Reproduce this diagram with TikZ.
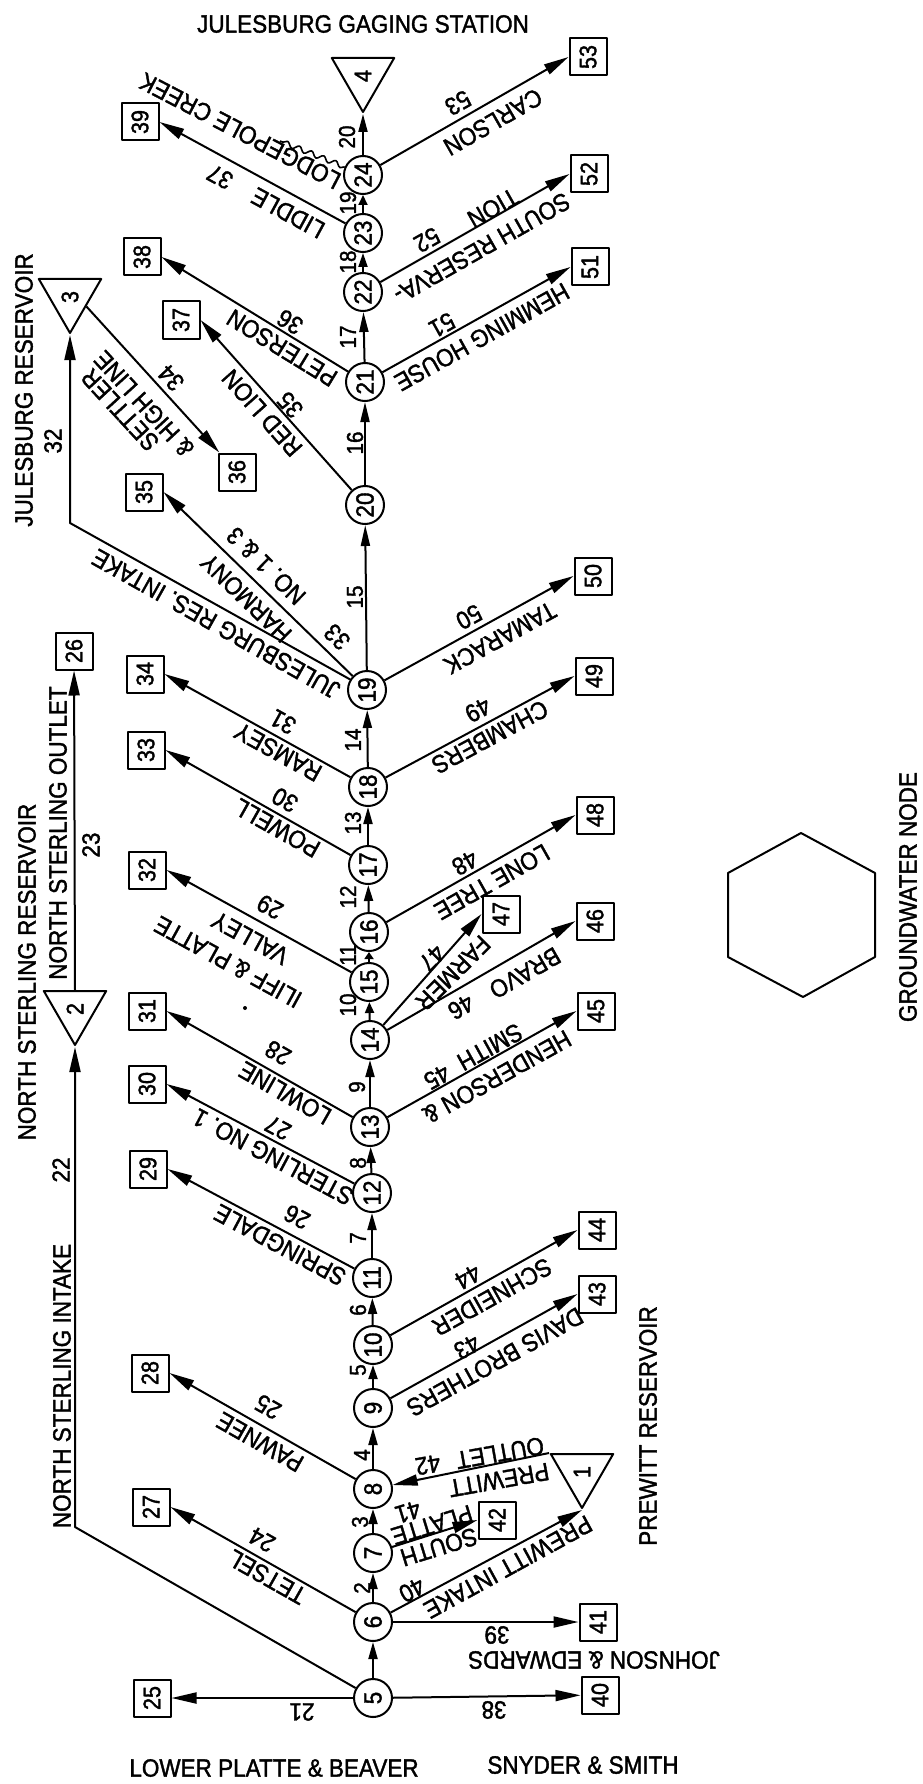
\documentclass[tikz,border=0pt]{standalone}
\usepackage{fontspec}
\setmainfont{Liberation Sans}[FakeStretch=0.9,FakeBold=1.5]
\usepackage{graphicx}
\usetikzlibrary{arrows.meta,shapes.geometric,decorations.pathmorphing}
\begin{document}
\begin{tikzpicture}[x=1pt,y=-1pt,line width=2pt,line join=round,
  cnode/.style={circle,draw,minimum size=38pt,inner sep=0pt,font=\fontsize{25}{25}\selectfont},
  bnode/.style={rectangle,draw,minimum size=37pt,inner sep=0pt,font=\fontsize{24}{24}\selectfont},
  tnode/.style={regular polygon,regular polygon sides=3,shape border rotate=180,draw,minimum size=72pt,inner sep=0pt},
  lb/.style={font=\fontsize{25}{27}\selectfont,inner sep=0pt},
  sl/.style={font=\fontsize{23}{23}\selectfont,inner sep=0pt,rotate=90},
  al/.style={-{Triangle[length=#1,width=9pt]}},
  fl/.style={-{Triangle[length=25pt,width=11pt]}},
]
\useasboundingbox (0,0) rectangle (922,1784);

% main stem nodes
\foreach \n/\x/\y in {5/373/1698,6/373/1622,7/373/1553,8/373/1489,9/373/1408,10/373/1345,
  11/372/1278,12/372/1193,13/370/1127,14/370/1040,15/369/982,16/369/932,17/368/865,
  18/368/787,19/367/690,20/365/505,21/365/382,22/363/292,23/363/233,24/363/175}
  \node[cnode] (n\n) at (\x,\y) {\rotatebox{90}{\n}};

% demand boxes
\foreach \n/\x/\y in {25/152/1698,26/74/651,27/151/1507,28/150/1373,29/148/1169,30/147/1084,
  31/147/1011,32/147/870,33/146/750,34/145/674,35/144/492,36/237/472,37/181/320,38/142/257,
  39/140/122,40/600/1695,41/598/1622,42/497/1520,43/597/1294,44/597/1230,45/596/1011,
  46/595/921,47/501/914,48/595/815,49/594/676,50/593/576,51/590/267,52/589/174,53/588/57}
  \node[bnode] (b\n) at (\x,\y) {\rotatebox{90}{\n}};

% reservoirs / gaging station
\foreach \n/\x/\y in {1/582/1472,2/75/1009,3/70/297,4/363/76}{
  \node[tnode] (t\n) at (\x,\y) {};
  \node[font=\fontsize{24}{24}\selectfont,inner sep=0pt] (tl\n) at (\x,\y) {\rotatebox{90}{\n}};
}

% groundwater node
\draw (801,833) -- (875,873) -- (875,957) -- (803,997) -- (728,957) -- (728,873) -- cycle;

% stem links
\draw[al=17pt] (n5) -- (n6);
\draw[al=16pt] (n6) -- (n7);
\draw[al=15pt] (n7) -- (n8);
\draw[al=17pt] (n8) -- (n9);
\draw[al=14pt] (n9) -- (n10);
\draw[al=16pt] (n10) -- (n11);
\draw[al=17pt] (n11) -- (n12);
\draw[al=16pt] (n12) -- (n13);
\draw[al=17pt] (n13) -- (n14);
\draw[al=11pt] (n14) -- (n15);
\draw[al=7pt]  (n15) -- (n16);
\draw[al=16pt] (n16) -- (n17);
\draw[al=17pt] (n17) -- (n18);
\draw[al=18pt] (n18) -- (n19);
\draw[al=21pt] (n19) -- (n20);
\draw[al=20pt] (n20) -- (n21);
\draw[al=20pt] (n21) -- (n22);
\draw[al=14pt] (n22) -- (n23);
\draw[al=10pt] (n23) -- (n24);
\draw[al=18pt] (n24) -- (t4.corner 1);

% stem labels
\node[sl] (s2) at (362,1588) {2};
\node[sl] (s3) at (360,1522) {3};
\node[sl] (s4) at (362,1455) {4};
\node[sl] (s5) at (358,1370) {5};
\node[sl] (s6) at (358,1310) {6};
\node[sl] (s7) at (358,1238) {7};
\node[sl] (s8) at (358,1163) {8};
\node[sl] (s9) at (357,1087) {9};
\node[sl] (s10) at (348,1005) {10};
\node[sl] (s11) at (348,955) {11};
\node[sl] (s12) at (348,897) {12};
\node[sl] (s13) at (353,823) {13};
\node[sl] (s14) at (353,740) {14};
\node[sl] (s15) at (355,597) {15};
\node[sl] (s16) at (355,443) {16};
\node[sl] (s17) at (348,337) {17};
\node[sl] (s18) at (348,262) {18};
\node[sl] (s19) at (348,203) {19};
\node[sl] (s20) at (347,137) {20};

% corner points
\coordinate (c22) at (75,1527);
\coordinate (c32) at (70,523);
\coordinate (cr) at (280,141);

% left branches
\draw[fl] (n5) -- (b25);
\draw[fl] (n5) -- (c22) -- (t2.corner 1);
\draw[fl] (t2.side 2) -- (b26);
\draw[fl] (n6) -- (b27.east);
\draw[fl] (n8) -- (b28.east);
\draw[fl] (n11) -- (b29.east);
\draw[fl] (n12) -- (b30.east);
\draw[fl] (n13) -- (b31.east);
\draw[fl] (n15) -- (b32.east);
\draw[fl] (n17) -- (b33.east);
\draw[fl] (n18) -- (b34.east);
\draw[fl] (n19.148) -- (c32) -- (t3.corner 1);
\draw[fl] (n19) -- (b35.east);
\draw[fl] (t3.side 1) -- (b36);
\draw[fl] (n20) -- (b37.east);
\draw[fl] (n21) -- (b38.east);
\draw[fl] (n23) -- (b39.east);
\draw[line width=1.6pt,decorate,decoration={snake,amplitude=2.5pt,segment length=13pt}] (n24.156) -- (cr);

% right branches
\draw[fl] (n5) -- (b40);
\draw[fl] (n6) -- (b41);
\draw[fl] (n6) -- (t1.corner 1);
\draw[fl] (n7) -- (b42.west);
\draw[fl] (t1.corner 3) -- (n8);
\draw[fl] (n9) -- (b43.west);
\draw[fl] (n10) -- (b44.west);
\draw[fl] (n13) -- (b45.west);
\draw[fl] (n14) -- (b46.west);
\draw[fl] (n14) -- (b47.west);
\draw[fl] (n16) -- (b48.west);
\draw[fl] (n18) -- (b49.west);
\draw[fl] (n19) -- (b50.west);
\draw[fl] (n21) -- (b51.west);
\draw[fl] (n22) -- (b52.west);
\draw[fl] (n24) -- (b53.west);

% titles
\node[lb] (tJGS) at (363,24) {JULESBURG GAGING STATION};
\node[lb] (tLPB) at (274,1768) {LOWER PLATTE \& BEAVER};
\node[lb] (tSS) at (583,1765) {SNYDER \& SMITH};
\node[lb,rotate=180] (tJE) at (594,1660) {JOHNSON \& EDWARDS};
\node[lb,rotate=90] (tPR) at (648,1426) {PREWITT RESERVOIR};
\node[lb,rotate=90] (tGW) at (908,897) {GROUNDWATER NODE};
\node[lb,rotate=90] (tNSR) at (27,972) {NORTH STERLING RESERVOIR};
\node[lb,rotate=90] (tNSO) at (58,833) {NORTH STERLING OUTLET};
\node[lb,rotate=90] (tNSI) at (62,1386) {NORTH STERLING INTAKE};
\node[lb,rotate=90] (tJR) at (24,390) {JULESBURG RESERVOIR};

% link labels, left side
\node[lb,rotate=180] (l21) at (302,1712) {21};
\node[lb,rotate=90] (l22) at (61,1170) {22};
\node[lb,rotate=90] (l23) at (91,845) {23};
\node[lb,rotate=150.5] (l24) at (262,1540) {24};
\node[lb,rotate=150.5] (l24n) at (267,1577) {TETSEL};
\node[lb,rotate=150.4] (l25) at (268,1407) {25};
\node[lb,rotate=150.4] (l25n) at (260,1442) {PAWNEE};
\node[lb,rotate=151.9] (l26) at (297,1217) {26};
\node[lb,rotate=151.9] (l26n) at (280,1245) {SPRINGDALE};
\node[lb,rotate=152] (l27) at (278,1128) {27};
\node[lb,rotate=152] (l27n) at (273,1157) {STERLING NO. 1};
\node[lb,rotate=150.3] (l28) at (278,1053) {28};
\node[lb,rotate=150.3] (l28n) at (285,1093) {LOWLINE};
\node[lb,rotate=151.2] (l29) at (270,907) {29};
\node[lb,rotate=151.2] (l29n) at (250,938) {VALLEY};
\node[lb,rotate=151.2] (l29m) at (228,962) {ILIFF \& PLATTE};
\fill (245,1008) circle (2pt);
\node[lb,rotate=150.6] (l30) at (285,800) {30};
\node[lb,rotate=150.6] (l30n) at (277,828) {POWELL};
\node[lb,rotate=151.1] (l31) at (283,722) {31};
\node[lb,rotate=151.1] (l31n) at (278,752) {RAMSEY};
\node[lb,rotate=90] (l32) at (53,441) {32};
\node[lb,rotate=150.7] (l32n) at (216,624) {JULESBURG RES. INTAKE};
\node[lb,rotate=135.9] (l33) at (337,637) {33};
\node[lb,rotate=135.9] (l33n) at (246,598) {HARMONY};
\node[lb,rotate=135.9] (l33m) at (266,566) {NO. 1 \& 3};
\node[lb,rotate=132.6] (l34) at (171,378) {34};
\node[lb,rotate=132.6] (l34n) at (144,404) {\& HIGH LINE};
\node[lb,rotate=132.6] (l34m) at (120,410) {SETTLER};
\node[lb,rotate=131.7] (l35) at (290,405) {35};
\node[lb,rotate=131.7] (l35n) at (262,413) {RED LION};
\node[lb,rotate=148.5] (l36) at (290,322) {36};
\node[lb,rotate=148.5] (l36n) at (282,348) {PETERSON};
\node[lb,rotate=151.5] (l37) at (220,177) {37};
\node[lb,rotate=151.5] (l37n) at (288,213) {LIDDLE};
\node[lb,rotate=152.5] (lLC) at (240,131) {LODGEPOLE CREEK};

% link labels, right side
\node[lb,rotate=180] (l38) at (494,1710) {38};
\node[lb,rotate=180] (l39) at (497,1635) {39};
\node[lb,rotate=208.7] (l40) at (412,1590) {40};
\node[lb,rotate=208.7] (l40n) at (508,1567) {PREWITT INTAKE};
\node[lb,rotate=197] (l41) at (408,1512) {41};
\node[lb,rotate=197] (l41n) at (432,1525) {PLATTE};
\node[lb,rotate=197] (l41m) at (439,1547) {SOUTH};
\node[lb,rotate=190.1] (l42) at (428,1465) {42};
\node[lb,rotate=190.1] (l42n) at (500,1453) {OUTLET};
\node[lb,rotate=190.1] (l42m) at (499,1480) {PREWITT};
\node[lb,rotate=209.1] (l43) at (467,1347) {43};
\node[lb,rotate=209.1] (l43n) at (495,1362) {DAVIS BROTHERS};
\node[lb,rotate=209.3] (l44) at (468,1277) {44};
\node[lb,rotate=209.3] (l44n) at (492,1297) {SCHNEIDER};
\node[lb,rotate=209.1] (l45) at (437,1077) {45};
\node[lb,rotate=209.1] (l45n) at (490,1047) {SMITH};
\node[lb,rotate=209.1] (l45m) at (497,1077) {HENDERSON \&};
\node[lb,rotate=209.9] (l46) at (461,1007) {46};
\node[lb,rotate=209.9] (l46n) at (525,973) {BRAVO};
\node[lb,rotate=225] (l47) at (432,958) {47};
\node[lb,rotate=225] (l47n) at (453,973) {FARMER};
\node[lb,rotate=209.5] (l48) at (465,863) {48};
\node[lb,rotate=209.5] (l48n) at (492,882) {LONE TREE};
\node[lb,rotate=208.2] (l49) at (478,710) {49};
\node[lb,rotate=208.2] (l49n) at (490,737) {CHAMBERS};
\node[lb,rotate=208.8] (l50) at (469,617) {50};
\node[lb,rotate=208.8] (l50n) at (500,638) {TAMARACK};
\node[lb,rotate=209.1] (l51) at (442,325) {51};
\node[lb,rotate=209.1] (l51n) at (482,337) {HEMMING HOUSE};
\node[lb,rotate=209.6] (l52) at (427,240) {52};
\node[lb,rotate=209.6] (l52n) at (493,208) {TION};
\node[lb,rotate=209.6] (l52m) at (482,248) {SOUTH RESERVA-};
\node[lb,rotate=209.8] (l53) at (458,103) {53};
\node[lb,rotate=209.8] (l53n) at (493,122) {CARLSON};
\end{tikzpicture}
\end{document}
